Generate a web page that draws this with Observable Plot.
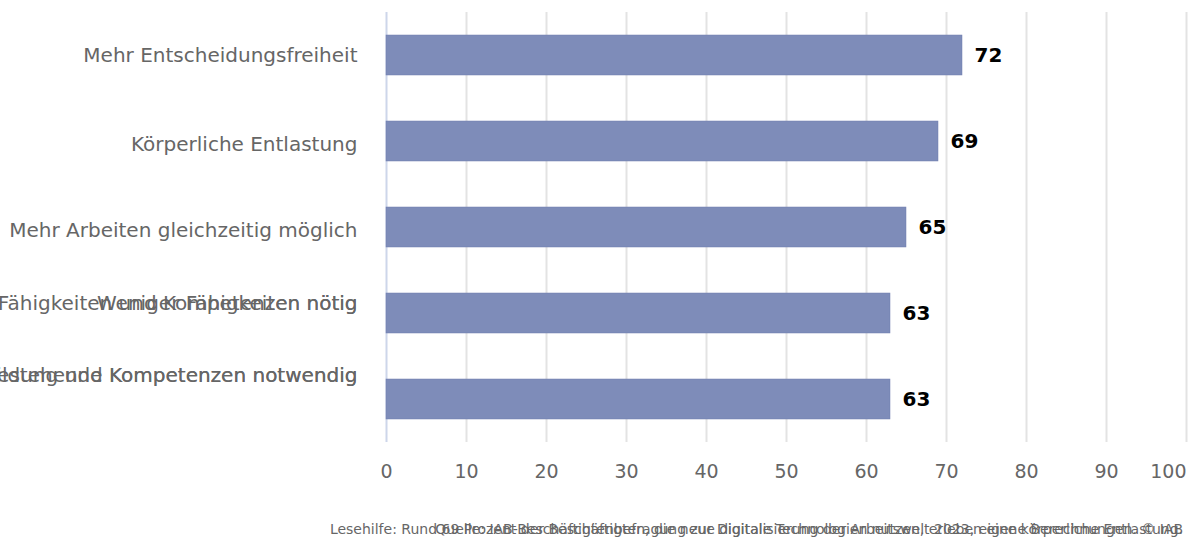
<!DOCTYPE html>
<html>
<head>
<meta charset="utf-8">
<script src="https://cdn.jsdelivr.net/npm/d3@7"></script>
<script src="https://cdn.jsdelivr.net/npm/@observablehq/plot@0.6"></script>
<style>
  body { margin: 0; background: #fff; font-family: "DejaVu Sans", sans-serif; overflow: hidden; }
  #wrap { position: relative; width: 1189px; height: 546px; overflow: hidden; }
  .cap { position: absolute; right: 6px; top: 521px; font-size: 14px; color: #666; white-space: nowrap; font-family: "DejaVu Sans", sans-serif; }
</style>
</head>
<body>
<div id="wrap">
  <div id="chart"></div>
  <div class="cap" id="cap1"></div>
  <div class="cap" id="cap2"></div>
</div>
<script>
const categories = [
  "Mehr Entscheidungsfreiheit",
  "Körperliche Entlastung",
  "Mehr Arbeiten gleichzeitig möglich",
  "Mehr Fähigkeiten und Kompetenzen nötig",
  "Ständige Weiterbildung und Kompetenzen notwendig"
];
const secondLines = [
  "", "", "",
  "Weniger Fähigkeiten nötig",
  "Bestehende Kompetenzen notwendig"
];
const values = [72, 69, 65, 63, 63];
const xTicks = [0, 10, 20, 30, 40, 50, 60, 70, 80, 90, 100];
const captionLines = [
  "Lesehilfe: Rund 69 Prozent der Beschäftigten, die neue digitale Technologien nutzen, erleben eine körperliche Entlastung.",
  "Quelle: IAB-Beschäftigtenbefragung zur Digitalisierung der Arbeitswelt 2023, eigene Berechnungen. © IAB"
];

const data = categories.map((c, i) => ({cat: c, line2: secondLines[i], value: values[i]}));
// label vertical shifts for the overlapping (multi-line) labels
const labelShift = [0, 3, 3, -10, -24];

const labelMarks = [];
data.forEach((d, i) => {
  labelMarks.push(Plot.text([d], {y: "cat", x: 0, text: "cat", dx: -29, dy: labelShift[i], textAnchor: "end", fontSize: 20, fill: "#666"}));
  if (d.line2) labelMarks.push(Plot.text([d], {y: "cat", x: 0, text: "line2", dx: -29, dy: labelShift[i], textAnchor: "end", fontSize: 20, fill: "#666"}));
});

const chart = Plot.plot({
  width: 1189,
  height: 512,
  marginLeft: 386,
  marginRight: 3,
  marginTop: 12,
  marginBottom: 70,
  style: {fontFamily: "DejaVu Sans, sans-serif", fontSize: "19px", color: "#666", background: "#fff"},
  x: {domain: [0, 100], ticks: xTicks, label: null},
  y: {domain: categories, paddingInner: 0.53, paddingOuter: 0.265, label: null},
  marks: [
    Plot.gridX(xTicks.filter(d => d > 0), {stroke: "#e3e3e3", strokeOpacity: 1, strokeWidth: 2}),
    Plot.ruleX([0], {stroke: "#cdd6ea", strokeWidth: 2}),
    Plot.barX(data, {y: "cat", x: "value", fill: "#7e8cb9", stroke: "#6f7eae", strokeWidth: 0.5}),
    Plot.text(data, {y: "cat", x: "value", text: d => String(d.value), dx: 12, textAnchor: "start", fontWeight: "bold", fontSize: 20, fill: "#000"}),
    ...labelMarks,
    Plot.axisX(xTicks.slice(0, -1), {tickSize: 0, tickPadding: 22, fontSize: 19, fill: "#666", label: null}),
    Plot.axisX(xTicks.slice(-1), {tickSize: 0, tickPadding: 22, fontSize: 19, fill: "#666", label: null, textAnchor: "end", dx: 0}),
    Plot.axisY({tickSize: 0, tickFormat: () => "", label: null})
  ]
});
document.getElementById("chart").appendChild(chart);
document.getElementById("cap1").textContent = captionLines[0];
document.getElementById("cap2").textContent = captionLines[1];
</script>
</body>
</html>
